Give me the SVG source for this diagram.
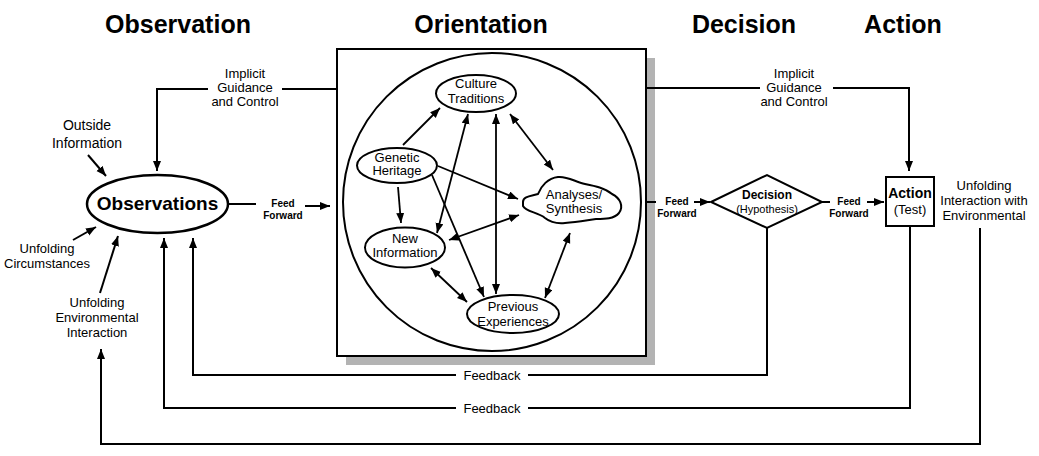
<svg xmlns="http://www.w3.org/2000/svg" width="1039" height="456" viewBox="0 0 1039 456">
<defs>
<marker id="ah" markerUnits="userSpaceOnUse" markerWidth="12" markerHeight="10" refX="10" refY="4" orient="auto-start-reverse"><path d="M0,0 L10,4 L0,8 Z" fill="#000"/></marker>
<style>
text{font-family:"Liberation Sans",Arial,sans-serif;fill:#000;text-anchor:middle}
.h{font-size:25px;font-weight:bold}
.t13{font-size:13px}
.t14{font-size:14px}
.ff{font-size:10px;font-weight:bold}
.ln{fill:none;stroke:#000;stroke-width:2}
.in{fill:none;stroke:#000;stroke-width:1.8}
.nd{fill:#fff;stroke:#000;stroke-width:2}
</style>
</defs>
<rect width="1039" height="456" fill="#fff"/>
<g id="headers">
<text class="h" x="178" y="33">Observation</text>
<text class="h" x="481" y="33">Orientation</text>
<text class="h" x="744" y="33">Decision</text>
<text class="h" x="903" y="33">Action</text>
</g>
<g id="orientation-box">
<rect x="346" y="58" width="309" height="307" fill="#b3b3b3"/>
<rect x="337" y="49" width="309" height="307" fill="#fff" stroke="#000" stroke-width="2"/>
<circle cx="492" cy="202" r="149" fill="none" stroke="#000" stroke-width="2"/>
</g>
<g id="labels">
<text class="t13" x="245" y="78">Implicit</text>
<text class="t13" x="245" y="92">Guidance</text>
<text class="t13" x="245" y="106">and Control</text>
<text class="t13" x="794" y="78">Implicit</text>
<text class="t13" x="794" y="92">Guidance</text>
<text class="t13" x="794" y="106">and Control</text>
<text class="t14" x="87" y="130">Outside</text>
<text class="t14" x="87" y="148">Information</text>
<text class="t13" x="47" y="253">Unfolding</text>
<text class="t13" x="47" y="268">Circumstances</text>
<text class="t13" x="97" y="307">Unfolding</text>
<text class="t13" x="97" y="322">Environmental</text>
<text class="t13" x="97" y="337">Interaction</text>
<text class="t13" x="984" y="190">Unfolding</text>
<text class="t13" x="984" y="205">Interaction with</text>
<text class="t13" x="984" y="220">Environmental</text>
<text class="ff" x="283" y="207">Feed</text>
<text class="ff" x="283" y="219">Forward</text>
<text class="ff" x="677" y="205">Feed</text>
<text class="ff" x="677" y="217">Forward</text>
<text class="ff" x="849" y="205">Feed</text>
<text class="ff" x="849" y="217">Forward</text>
<text class="t13" x="492" y="380">Feedback</text>
<text class="t13" x="492" y="413">Feedback</text>
</g>
<g id="connectors">
<path class="ln" d="M337,89 H282 M208,89 H157 V171" marker-end="url(#ah)"/>
<path class="ln" d="M646,88 H760 M833,88 H909 V171" marker-end="url(#ah)"/>
<path class="ln" d="M88,155 L106,176" marker-end="url(#ah)"/>
<path class="ln" d="M73,240 L96,227" marker-end="url(#ah)"/>
<path class="ln" d="M100,293 L118,236" marker-end="url(#ah)"/>
<path class="ln" d="M228,204 H256"/>
<path class="ln" d="M305,206 H330" marker-end="url(#ah)"/>
<path class="ln" d="M646,202 H656"/>
<path class="ln" d="M694,202 H710" marker-end="url(#ah)"/>
<path class="ln" d="M822,202 H830"/>
<path class="ln" d="M867,202 H884" marker-end="url(#ah)"/>
<path class="ln" d="M767,228 V375 H528 M456,375 H193 V238" marker-end="url(#ah)"/>
<path class="ln" d="M910,227 V408 H528 M456,408 H164 V238" marker-end="url(#ah)"/>
<path class="ln" d="M980,228 V444 H101 V349" marker-end="url(#ah)"/>
<path class="in" d="M403,145 L440,108" marker-end="url(#ah)"/>
<path class="in" d="M398,187 L401,223" marker-end="url(#ah)"/>
<path class="in" d="M438,166 L518,199" marker-end="url(#ah)"/>
<path class="in" d="M432,175 L484,297" marker-end="url(#ah)"/>
<path class="in" d="M437,233 L468,114" marker-start="url(#ah)" marker-end="url(#ah)"/>
<path class="in" d="M496,114 V294" marker-start="url(#ah)" marker-end="url(#ah)"/>
<path class="in" d="M510,114 L553,170" marker-start="url(#ah)" marker-end="url(#ah)"/>
<path class="in" d="M449,240 L519,215" marker-start="url(#ah)" marker-end="url(#ah)"/>
<path class="in" d="M431,268 L467,302" marker-start="url(#ah)" marker-end="url(#ah)"/>
<path class="in" d="M570,233 L545,298" marker-start="url(#ah)" marker-end="url(#ah)"/>
</g>
<g id="observations">
<ellipse cx="157.5" cy="204" rx="70.5" ry="29" fill="#fff" stroke="#000" stroke-width="2.5"/>
<text x="157.5" y="210" style="font-size:19px;font-weight:bold">Observations</text>
</g>
<g id="culture-traditions">
<ellipse class="nd" cx="476" cy="93.5" rx="40" ry="18.5"/>
<text class="t13" x="476" y="88">Culture</text>
<text class="t13" x="476" y="103">Traditions</text>
</g>
<g id="genetic-heritage">
<ellipse class="nd" cx="397" cy="165.5" rx="40" ry="17.5"/>
<text class="t13" x="397" y="162">Genetic</text>
<text class="t13" x="397" y="175">Heritage</text>
</g>
<g id="new-information">
<ellipse class="nd" cx="405" cy="247.5" rx="40" ry="20"/>
<text class="t13" x="405" y="243">New</text>
<text class="t13" x="405" y="257">Information</text>
</g>
<g id="previous-experiences">
<ellipse class="nd" cx="513" cy="314" rx="46" ry="19"/>
<text class="t13" x="513" y="311">Previous</text>
<text class="t13" x="513" y="326">Experiences</text>
</g>
<g id="analyses-synthesis">
<path class="nd" d="M523,202 C523,196 532,196 538,194 C541,186 548,178 558,177 C568,176 575,182 585,184 C595,186 605,188 612,194 C620,198 624,206 619,213 C614,219 605,219 596,219 C588,220 578,222 565,223 C555,224 550,222 545,218 C538,212 526,212 523,206 Z"/>
<text class="t13" x="574" y="199">Analyses/</text>
<text class="t13" x="574" y="213">Synthesis</text>
</g>
<g id="decision">
<path class="nd" d="M711,202 L767,175 L822,202 L767,228 Z"/>
<text x="767" y="199" style="font-size:12px;font-weight:bold">Decision</text>
<text x="767" y="213" style="font-size:11px">(Hypothesis)</text>
</g>
<g id="action">
<rect class="nd" x="886" y="177" width="48" height="49"/>
<text x="910" y="198" style="font-size:14px;font-weight:bold">Action</text>
<text x="910" y="214" style="font-size:13px">(Test)</text>
</g>
</svg>
